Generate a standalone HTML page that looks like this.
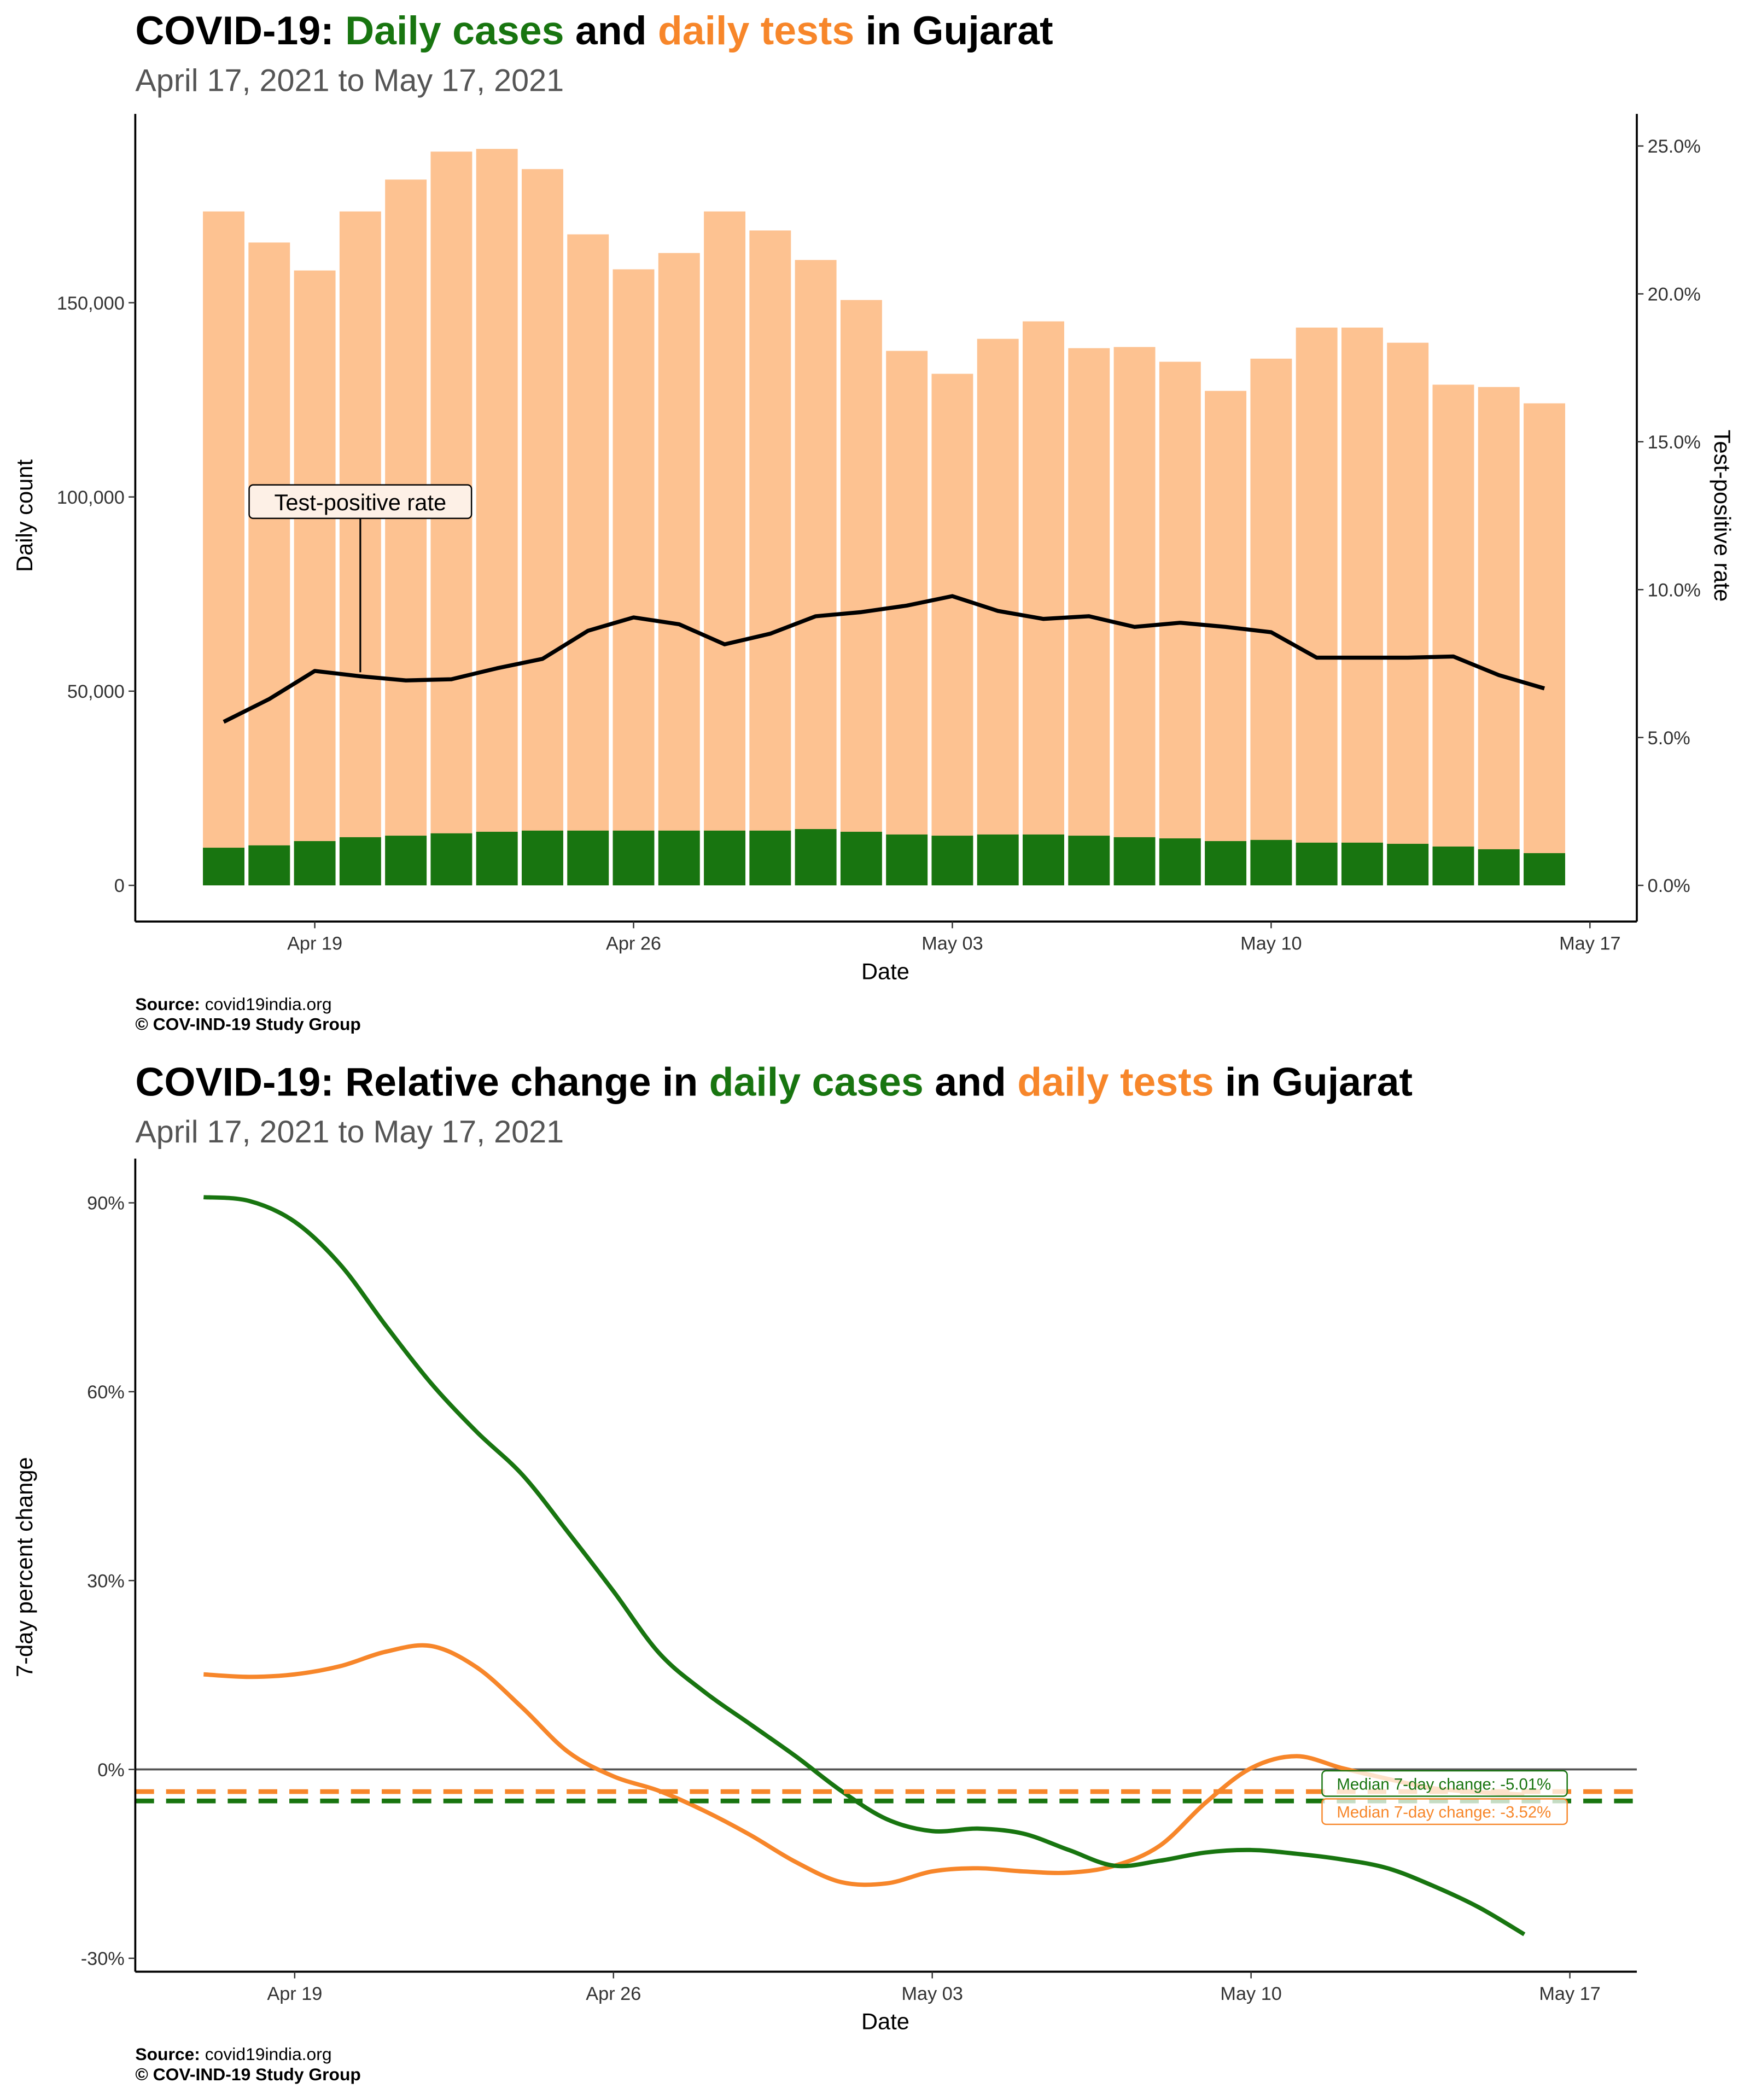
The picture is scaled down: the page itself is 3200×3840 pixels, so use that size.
<!DOCTYPE html>
<html><head><meta charset="utf-8"><style>
html,body{margin:0;padding:0;background:#fff}
svg{display:block}
text{font-family:"Liberation Sans",sans-serif}
</style></head><body>
<svg id="root" width="3200" height="3840" viewBox="0 0 1306.5 1567.8" xmlns="http://www.w3.org/2000/svg">
<g id="topchart"></g>
<g id="botchart"></g>
</svg>
<script>
const days = ["Apr 17","Apr 18","Apr 19","Apr 20","Apr 21","Apr 22","Apr 23","Apr 24","Apr 25","Apr 26","Apr 27","Apr 28","Apr 29","Apr 30","May 01","May 02","May 03","May 04","May 05","May 06","May 07","May 08","May 09","May 10","May 11","May 12","May 13","May 14","May 15","May 16"];
const tests = [173500,165500,158300,173500,181700,188900,189600,184400,167600,158600,162800,173500,168600,161000,150700,137600,131700,140700,145200,138300,138600,134800,127300,135600,143600,143600,139700,128900,128300,124100];
const cases = [9700,10300,11400,12400,12800,13400,13800,14100,14100,14100,14100,14100,14100,14500,13800,13100,12800,13100,13100,12800,12400,12100,11400,11700,11000,11000,10700,10000,9300,8300];
const tpr = [5.53,6.30,7.25,7.07,6.93,6.97,7.34,7.66,8.61,9.06,8.83,8.15,8.51,9.10,9.24,9.46,9.78,9.28,9.01,9.10,8.74,8.88,8.74,8.56,7.70,7.70,7.70,7.74,7.11,6.66];
const yTicksTop = [0,50000,100000,150000];
const yTickLabelsTop = ["0","50,000","100,000","150,000"];
const rTicks = [0,5,10,15,20,25];
const rTickLabels = ["0.0%","5.0%","10.0%","15.0%","20.0%","25.0%"];
const xTickDays = [2,9,16,23,30];
const xTickLabels = ["Apr 19","Apr 26","May 03","May 10","May 17"];
const casesChg = [90.9,90.3,87.0,80.2,70.5,61.3,53.6,46.8,37.7,28.3,18.5,12.3,7.2,2.1,-3.4,-7.9,-9.8,-9.4,-10.2,-12.8,-15.3,-14.5,-13.2,-12.8,-13.4,-14.3,-15.7,-18.5,-21.9,-26.2];
const testsChg = [15.1,14.7,15.1,16.4,18.7,19.6,16.2,9.8,2.8,-1.1,-3.4,-6.6,-10.4,-14.7,-17.9,-18.1,-16.2,-15.7,-16.2,-16.4,-15.3,-12.1,-5.3,0.2,2.1,0.2,-1.5,-3.0,-3.6,-4.0];
const pTicks = [-30,0,30,60,90];
const pTickLabels = ["-30%","0%","30%","60%","90%"];
const medCases = -5.01, medTests = -3.52;

{
const NS="http://www.w3.org/2000/svg";
function mk(parent,tag,attrs,txt){const e=document.createElementNS(NS,tag);for(const k in attrs)e.setAttribute(k,attrs[k]);if(txt!==undefined)e.textContent=txt;parent.appendChild(e);return e;}
const gTop=document.getElementById('topchart'), gBot=document.getElementById('botchart');
const GREEN="#187510", ORANGE="#F7862A", PEACH="#FDC291";

const xT = d => 167 + d*34;
const yT = v => 661 - v/50000*145;
const yR = p => 661 - p/5*110.4;

function titles(g,y0,parts){
  const t=mk(g,'text',{x:101,y:y0,'font-size':30,'font-weight':'bold'});
  
  
  parts.forEach(p=>{mk(t,'tspan',{fill:p[1]},p[0]);});
  const s=mk(g,'text',{x:101,y:y0+35,'font-size':23.5,fill:'#555'},"April 17, 2021 to May 17, 2021");
  
  
}
titles(gTop,33,[["COVID-19: ","#000"],["Daily cases",GREEN],[" and ","#000"],["daily tests",ORANGE],[" in Gujarat","#000"]]);
titles(gBot,818,[["COVID-19: Relative change in ","#000"],["daily cases",GREEN],[" and ","#000"],["daily tests",ORANGE],[" in Gujarat","#000"]]);

days.forEach((d,i)=>{
  const b=mk(gTop,'rect',{x:xT(i)-15.5,y:yT(tests[i]),width:31,height:yT(0)-yT(tests[i]),fill:PEACH});
  
  
  const c=mk(gTop,'rect',{x:xT(i)-15.5,y:yT(cases[i]),width:31,height:yT(0)-yT(cases[i]),fill:GREEN});
  
  
});
const tl=mk(gTop,'polyline',{points:tpr.map((v,i)=>xT(i)+','+yR(v)).join(' '),fill:'none',stroke:'#000','stroke-width':3,'stroke-linejoin':'round'});


const an=mk(gTop,'g',{});


mk(an,'line',{x1:269,y1:387,x2:269,y2:yR(tpr[3])-3,stroke:'#000','stroke-width':1.3});
mk(an,'rect',{x:186,y:362,width:166,height:25,rx:3,fill:'#FDF0E6',stroke:'#000','stroke-width':1});
mk(an,'text',{x:269,y:381,'font-size':17,'text-anchor':'middle'},"Test-positive rate");
mk(gTop,'line',{x1:101,y1:85,x2:101,y2:688,stroke:'#000','stroke-width':1.5});
mk(gTop,'line',{x1:1222,y1:85,x2:1222,y2:688,stroke:'#000','stroke-width':1.5});
mk(gTop,'line',{x1:101,y1:688,x2:1222,y2:688,stroke:'#000','stroke-width':1.5});
yTicksTop.forEach((v,i)=>{
  mk(gTop,'line',{x1:96,y1:yT(v),x2:101,y2:yT(v),stroke:'#333'});
  const t=mk(gTop,'text',{x:93,y:yT(v)+5,'font-size':14,'text-anchor':'end',fill:'#333'},yTickLabelsTop[i]);
  
  
});
rTicks.forEach((p,i)=>{
  mk(gTop,'line',{x1:1222,y1:yR(p),x2:1227,y2:yR(p),stroke:'#333'});
  const t=mk(gTop,'text',{x:1230,y:yR(p)+5,'font-size':14,fill:'#333'},rTickLabels[i]);
  
  
});
xTickDays.forEach((d,i)=>{
  mk(gTop,'line',{x1:xT(d),y1:688,x2:xT(d),y2:693,stroke:'#333'});
  const t=mk(gTop,'text',{x:xT(d),y:709,'font-size':14,'text-anchor':'middle',fill:'#333'},xTickLabels[i]);
  
  
});
let a=mk(gTop,'text',{x:661,y:731,'font-size':17,'text-anchor':'middle'},"Date");


a=mk(gTop,'text',{x:0,y:0,'font-size':17,'text-anchor':'middle',transform:'translate(24,385) rotate(-90)'},"Daily count");


a=mk(gTop,'text',{x:0,y:0,'font-size':17,'text-anchor':'middle',transform:'translate(1280,385) rotate(90)'},"Test-positive rate");



function source(g,y){
  const s=mk(g,'text',{x:101,y:y,'font-size':13});
  
  
  mk(s,'tspan',{'font-weight':'bold'},"Source:");mk(s,'tspan',{}," covid19india.org");
  const c=mk(g,'text',{x:101,y:y+15,'font-size':13,'font-weight':'bold'},"© COV-IND-19 Study Group");
  
  
}
source(gTop,754);source(gBot,1538);

const xB = d => 152 + d*34;
const yB = p => 1321 - p/30*141;
mk(gBot,'line',{x1:101,y1:yB(0),x2:1222,y2:yB(0),stroke:'#555','stroke-width':1.5});
function smooth(arr){
  let d='M'+xB(0)+','+yB(arr[0]);
  for(let i=0;i<arr.length-1;i++){
    const p0=i>0?i-1:i,p3=i+2<arr.length?i+2:i+1;
    const c1x=xB(i)+(xB(i+1)-xB(p0))/6,c1y=yB(arr[i])+(yB(arr[i+1])-yB(arr[p0]))/6;
    const c2x=xB(i+1)-(xB(p3)-xB(i))/6,c2y=yB(arr[i+1])-(yB(arr[p3])-yB(arr[i]))/6;
    d+=` C${c1x},${c1y} ${c2x},${c2y} ${xB(i+1)},${yB(arr[i+1])}`;
  }
  return d;
}
let l=mk(gBot,'path',{d:smooth(testsChg),fill:'none',stroke:ORANGE,'stroke-width':3.2});


l=mk(gBot,'path',{d:smooth(casesChg),fill:'none',stroke:GREEN,'stroke-width':3.2});


l=mk(gBot,'line',{x1:101,y1:yB(medTests),x2:1222,y2:yB(medTests),stroke:ORANGE,'stroke-width':3.5,'stroke-dasharray':'14,9'});


l=mk(gBot,'line',{x1:101,y1:yB(medCases),x2:1222,y2:yB(medCases),stroke:GREEN,'stroke-width':3.5,'stroke-dasharray':'14,9'});


function medLabel(y,col,txt,name){
  const g=mk(gBot,'g',{});
  
  
  mk(g,'rect',{x:987,y:y,width:183,height:19,rx:3,fill:'rgba(255,255,255,0.75)',stroke:col,'stroke-width':1});
  mk(g,'text',{x:1078,y:y+14,'font-size':12,'text-anchor':'middle',fill:col},txt);
}
medLabel(1322,GREEN,"Median 7-day change: -5.01%",'median-cases-label');
medLabel(1343,ORANGE,"Median 7-day change: -3.52%",'median-tests-label');
mk(gBot,'line',{x1:101,y1:865,x2:101,y2:1472,stroke:'#000','stroke-width':1.5});
mk(gBot,'line',{x1:101,y1:1472,x2:1222,y2:1472,stroke:'#000','stroke-width':1.5});
pTicks.forEach((p,i)=>{
  mk(gBot,'line',{x1:96,y1:yB(p),x2:101,y2:yB(p),stroke:'#333'});
  const t=mk(gBot,'text',{x:93,y:yB(p)+5,'font-size':14,'text-anchor':'end',fill:'#333'},pTickLabels[i]);
  
  
});
xTickDays.forEach((d,i)=>{
  mk(gBot,'line',{x1:xB(d),y1:1472,x2:xB(d),y2:1477,stroke:'#333'});
  const t=mk(gBot,'text',{x:xB(d),y:1493,'font-size':14,'text-anchor':'middle',fill:'#333'},xTickLabels[i]);
  
  
});
a=mk(gBot,'text',{x:661,y:1515,'font-size':17,'text-anchor':'middle'},"Date");


a=mk(gBot,'text',{x:0,y:0,'font-size':17,'text-anchor':'middle',transform:'translate(24,1170) rotate(-90)'},"7-day percent change");


}
</script>
</body></html>
